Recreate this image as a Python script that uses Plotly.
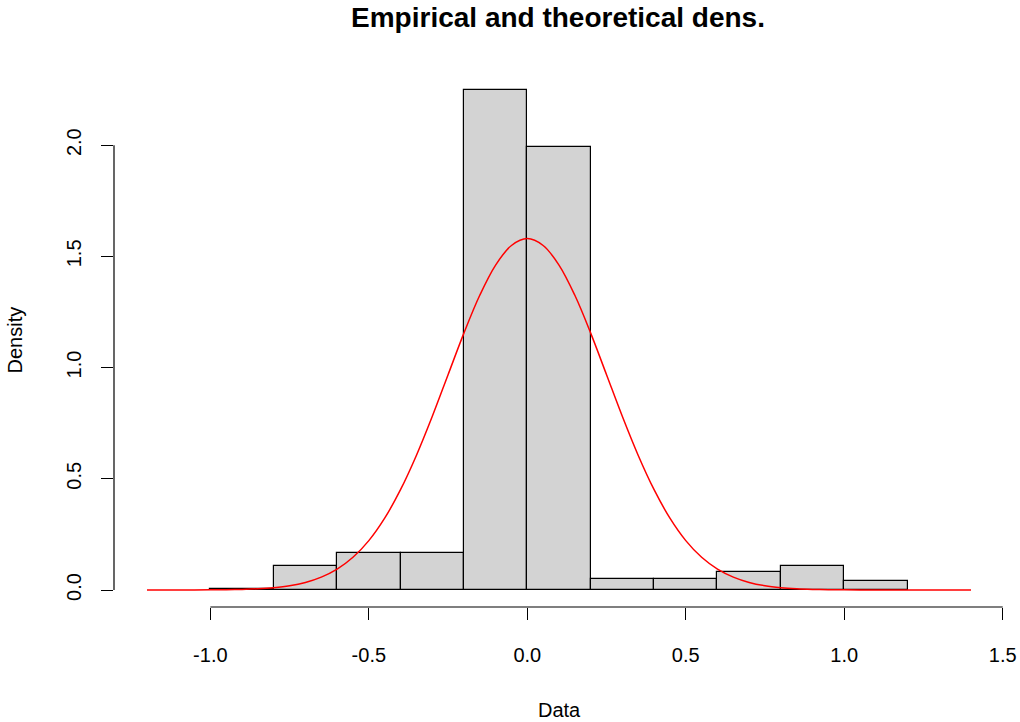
import plotly.graph_objects as go

# Histogram bins (left edges), bin width and densities
bin_left = [-1.0, -0.8, -0.6, -0.4, -0.2, 0.0, 0.2, 0.4, 0.6, 0.8, 1.0]
bin_width = 0.2
density = [0.005, 0.11, 0.168, 0.168, 2.247, 1.99, 0.05, 0.05, 0.08, 0.11, 0.04]

# Theoretical density curve
curve_x = [-1.2, -1.15, -1.1, -1.05, -1.0, -0.95, -0.9, -0.85, -0.8, -0.75, -0.7, -0.65,
           -0.6, -0.55, -0.5, -0.45, -0.4, -0.35, -0.3, -0.25, -0.2, -0.15, -0.1, -0.05,
           0.0, 0.05, 0.1, 0.15, 0.2, 0.25, 0.3, 0.35, 0.4, 0.45, 0.5, 0.55, 0.6, 0.65,
           0.7, 0.75, 0.8, 0.85, 0.9, 0.95, 1.0, 1.05, 1.1, 1.15, 1.2, 1.25, 1.3, 1.35, 1.4]
curve_y = [0.0, 0.0, 0.0, 0.0002, 0.0006, 0.0013, 0.0028, 0.0055, 0.0104, 0.019, 0.034, 0.058,
           0.094, 0.147, 0.222, 0.323, 0.451, 0.605, 0.780, 0.968, 1.155, 1.325, 1.461, 1.549,
           1.58, 1.549, 1.461, 1.325, 1.155, 0.968, 0.780, 0.605, 0.451, 0.323, 0.222, 0.147,
           0.094, 0.058, 0.034, 0.019, 0.0104, 0.0055, 0.0028, 0.0013, 0.0006, 0.0002, 0.0,
           0.0, 0.0, 0.0, 0.0, 0.0, 0.0]

x_ticks = [-1.0, -0.5, 0.0, 0.5, 1.0, 1.5]
x_tick_labels = ["-1.0", "-0.5", "0.0", "0.5", "1.0", "1.5"]
y_ticks = [0.0, 0.5, 1.0, 1.5, 2.0]
y_tick_labels = ["0.0", "0.5", "1.0", "1.5", "2.0"]

FONT = "Liberation Sans, Arial, sans-serif"

fig = go.Figure()
fig.add_trace(go.Bar(
    x=[b + bin_width / 2 for b in bin_left], y=density, width=bin_width,
    marker=dict(color="#d3d3d3", line=dict(color="black", width=1.2)),
    hoverinfo="skip", showlegend=False,
))
fig.add_trace(go.Scatter(
    x=curve_x, y=curve_y, mode="lines", line=dict(color="red", width=1.5, shape="spline"),
    showlegend=False,
))

# Detached R-style axis lines
fig.add_shape(type="line", xref="x", yref="paper", x0=min(x_ticks), x1=max(x_ticks), y0=0, y1=0,
              line=dict(color="black", width=1.2))
fig.add_shape(type="line", xref="paper", yref="y", x0=0, x1=0, y0=min(y_ticks), y1=max(y_ticks),
              line=dict(color="black", width=1.2))

fig.update_layout(
    width=1020, height=722,
    margin=dict(l=114, r=16, t=74, b=115, autoexpand=False),
    plot_bgcolor="white", paper_bgcolor="white",
    bargap=0,
    font=dict(family=FONT, size=20, color="black"),
    title=dict(text="<b>Empirical and theoretical dens.</b>", x=558 / 1020,
               xanchor="center", y=1 - 17 / 722, yanchor="middle",
               font=dict(family=FONT, size=28, color="black")),
    xaxis=dict(range=[-1.304, 1.504], tickvals=x_ticks, ticktext=x_tick_labels,
               ticks="outside", ticklen=12, tickwidth=1.2, tickcolor="black",
               showgrid=False, zeroline=False, showline=False, automargin=False,
               ticklabelstandoff=18,
               tickfont=dict(family=FONT, size=20, color="black")),
    yaxis=dict(range=[-0.0764, 2.32], tickvals=y_ticks, ticktext=y_tick_labels,
               ticks="outside", ticklen=12, tickwidth=1.2, tickcolor="black",
               showgrid=False, zeroline=False, showline=False, tickangle=-90,
               automargin=False, ticklabelstandoff=12,
               tickfont=dict(family=FONT, size=20, color="black")),
    annotations=[
        dict(text="Data", xref="paper", yref="paper", x=0.5, y=0, yshift=-103,
             showarrow=False, xanchor="center", yanchor="middle",
             font=dict(family=FONT, size=20, color="black")),
        dict(text="Density", xref="paper", yref="paper", x=0, xshift=-100, y=0.5,
             showarrow=False, textangle=-90, xanchor="center", yanchor="middle",
             font=dict(family=FONT, size=20, color="black")),
    ],
)

fig.write_html("out.html", config={"displayModeBar": False},
               post_script="document.body.style.margin='0';document.body.style.overflow='hidden';")
